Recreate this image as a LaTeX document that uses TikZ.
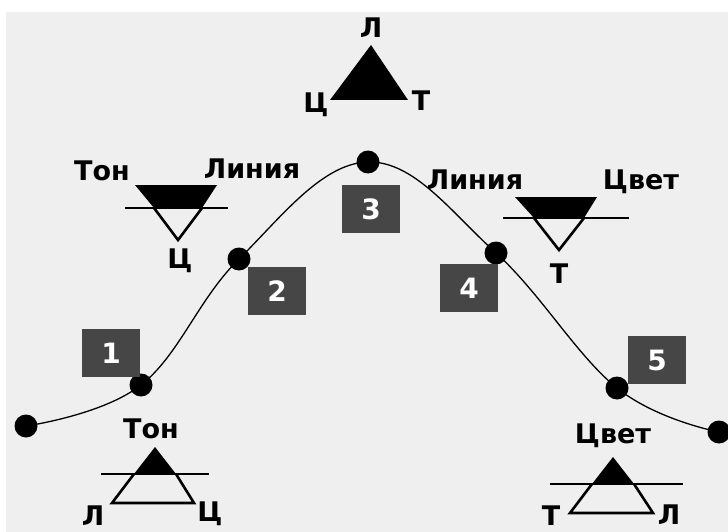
\documentclass[tikz,border=0pt]{standalone}
\usepackage{fontspec}
\setmainfont{DejaVu Sans}
\definecolor{bg}{RGB}{239,239,239}
\definecolor{boxgray}{RGB}{70,70,70}
\tikzset{
  lbl/.style={font=\bfseries\fontsize{27}{27}\selectfont, inner sep=0pt, anchor=base},
  dot/.style={circle, fill=black, inner sep=0pt, minimum size=23pt},
  numbox/.style={minimum width=58pt, minimum height=48pt, inner sep=0pt,
    fill=boxgray, text=white, font=\bfseries\fontsize{28}{28}\selectfont},
  tri/.style={line width=2.6pt, line join=miter},
  bar/.style={line width=1.6pt},
  curve/.style={line width=1.3pt},
}
\begin{document}
\begin{tikzpicture}[x=1pt,y=-1pt]
\useasboundingbox (0,0) rectangle (728,532);
\fill[white] (0,0) rectangle (728,532);
\fill[bg] (6,12) rectangle (728,532);

% points on the curve
\coordinate (c0) at (26,426);
\coordinate (c1) at (141,385);
\coordinate (c2) at (239,259);
\coordinate (c3) at (368,162);
\coordinate (c4) at (496,253);
\coordinate (c5) at (617,388);
\coordinate (c6) at (719,432);
\draw[curve] plot[smooth, tension=0.65] coordinates {(c0) (c1) (c2) (c3) (c4) (c5) (c6)};
\node[dot] (d0) at (c0) {};
\node[dot] (d1) at (c1) {};
\node[dot] (d2) at (c2) {};
\node[dot] (d3) at (c3) {};
\node[dot] (d4) at (c4) {};
\node[dot] (d5) at (c5) {};
\node[dot] (d6) at (c6) {};

% number boxes
\node[numbox] (n1) at (111,353) {1};
\node[numbox] (n2) at (277,291) {2};
\node[numbox] (n3) at (371,209) {3};
\node[numbox] (n4) at (469,288) {4};
\node[numbox] (n5) at (657,360) {5};

% top triangle
\fill (371,45) -- (408,100) -- (330,100) -- cycle;
\node[lbl] (tL) at (371,38) {Л};
\node[lbl] (tC) at (316,113) {Ц};
\node[lbl] (tT) at (421,111) {Т};

% upper left inverted triangle
\fill (135,185) -- (217,185) -- (202,208) -- (154,208) -- cycle;
\draw[tri] (154,208) -- (178,240) -- (202,208);
\draw[bar] (125,208) -- (228,208);
\node[lbl] (ulTon) at (102,180) {Тон};
\node[lbl] (ulLin) at (252,178) {Линия};
\node[lbl] (ulC) at (180,268) {Ц};

% upper right inverted triangle
\fill (515,197) -- (597,197) -- (584,218) -- (534,218) -- cycle;
\draw[tri] (534,218) -- (559,250) -- (584,218);
\draw[bar] (503,218) -- (629,218);
\node[lbl] (urLin) at (475,189) {Линия};
\node[lbl] (urCv) at (641,189) {Цвет};
\node[lbl] (urT) at (559,283) {Т};

% lower left triangle
\fill (155,447) -- (176,474) -- (134,474) -- cycle;
\draw[tri] (134,474) -- (112,503) -- (194,503) -- (176,474);
\draw[bar] (101,474) -- (209,474);
\node[lbl] (llTon) at (151,438) {Тон};
\node[lbl] (llL) at (93,525) {Л};
\node[lbl] (llC) at (210,521) {Ц};

% lower right triangle
\fill (613,457) -- (634,484) -- (592,484) -- cycle;
\draw[tri] (592,484) -- (570,513) -- (653,513) -- (634,484);
\draw[bar] (550,484) -- (683,484);
\node[lbl] (lrCv) at (613,443) {Цвет};
\node[lbl] (lrT) at (551,525) {Т};
\node[lbl] (lrL) at (669,524) {Л};
\end{tikzpicture}
\end{document}
